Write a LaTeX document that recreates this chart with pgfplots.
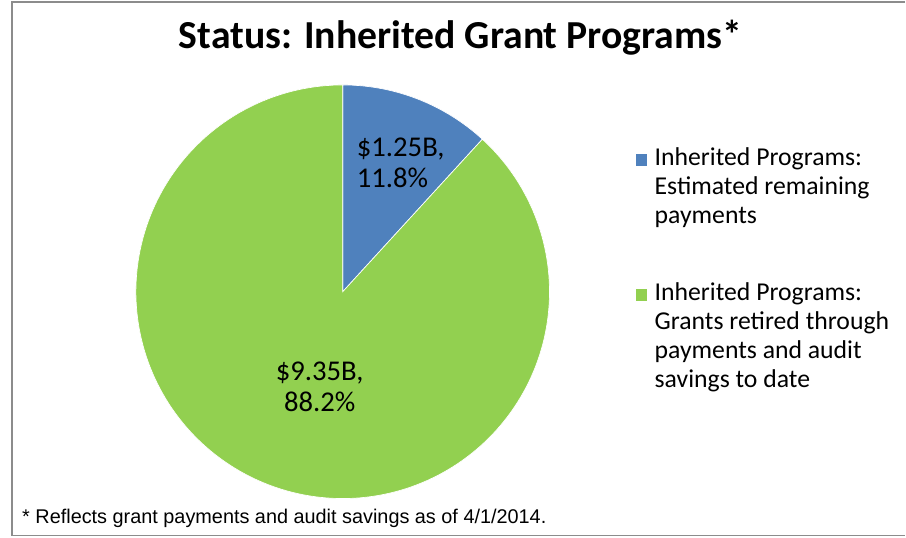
\documentclass[border=0pt]{standalone}
\usepackage{pgfplots}
\pgfplotsset{compat=1.18}
\usepackage{fontspec}
\setmainfont{Carlito}
\newfontfamily\arialfont{Liberation Sans}

\definecolor{pieblue}{HTML}{4F81BD}
\definecolor{piegreen}{HTML}{92D050}
\definecolor{framegray}{HTML}{8C8C8C}

% shares of the pie, in percent
\def\remaining{11.8}
\def\retired{88.2}
% pie centre and radius, in pixels of the 906x538 canvas
\def\cx{343}
\def\cy{292}
\def\rr{207}

\begin{document}
\begin{tikzpicture}
\begin{axis}[
  width=679.5pt, height=403.5pt, scale only axis,
  xmin=0, xmax=906, ymin=0, ymax=538, y dir=reverse,
  hide axis, clip=false,
  legend cell align=left,
  legend image code/.code={\fill[#1] (0pt,-0.8pt) rectangle (9.5pt,8.8pt);},
  legend style={
    at={(axis cs:635,145)}, anchor=north west,
    draw=none, fill=none, inner sep=0pt,
    font=\fontsize{19.3}{21.8}\selectfont,
    cells={anchor=base west},
    nodes={inner sep=0pt, text depth=},
    column sep=5pt, row sep=35.8pt,
  },
]
\path (axis cs:0,0) rectangle (axis cs:906,538);
\draw[framegray, line width=1.2pt] (axis cs:906,2) -- (axis cs:12,2) -- (axis cs:12,536) -- (axis cs:906,536);

\addplot[fill=pieblue, draw=white, line width=0.5pt, samples=40, variable=\t,
  domain=90:{90-3.6*\remaining}]
  ({\cx+\rr*cos(\t)}, {\cy-\rr*sin(\t)}) -- (axis cs:\cx,\cy) -- cycle;
\addlegendentry{\begin{tabular}[t]{@{}l@{}}Inherited Programs:\\Estimated remaining\\payments\end{tabular}}
\addplot[fill=piegreen, draw=white, line width=0.5pt, samples=200, variable=\t,
  domain={90-3.6*\remaining}:{90-3.6*(\remaining+\retired)}]
  ({\cx+\rr*cos(\t)}, {\cy-\rr*sin(\t)}) -- (axis cs:\cx,\cy) -- cycle;
\addlegendentry{\begin{tabular}[t]{@{}l@{}}Inherited Programs:\\Grants retired through\\payments and audit\\savings to date\end{tabular}}

\node[anchor=base, font=\fontsize{29.8}{36}\selectfont\bfseries] at (axis cs:461,49) {Status: Inherited Grant Programs*};

\node[anchor=base west, inner sep=0pt, font=\fontsize{21.5}{23.3}\selectfont] at (axis cs:357,157)
  {\begin{tabular}[t]{@{}l@{}}\$1.25B,\\11.8\%\end{tabular}};
\node[anchor=base, inner sep=0pt, font=\fontsize{21.5}{23.3}\selectfont] at (axis cs:320,381)
  {\begin{tabular}[t]{@{}c@{}}\$9.35B,\\88.2\%\end{tabular}};

\node[anchor=base west, inner sep=0pt, font=\arialfont\fontsize{14.9}{17}\selectfont] at (axis cs:22,524)
  {* Reflects grant payments and audit savings as of 4/1/2014.};
\end{axis}
\end{tikzpicture}
\end{document}
